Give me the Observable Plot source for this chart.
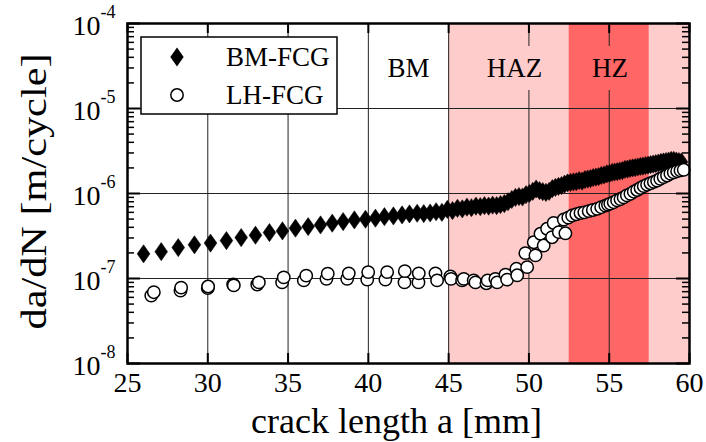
<!DOCTYPE html>
<html><head><meta charset="utf-8">
<script src="https://cdn.jsdelivr.net/npm/d3@7"></script>
<script src="https://cdn.jsdelivr.net/npm/@observablehq/plot@0.6"></script>
<style>
body{margin:0;background:#fff;}
#wrap{position:relative;width:706px;height:442px;font-family:"Liberation Serif",serif;}
#wrap svg, #wrap svg text{font-family:"Liberation Serif",serif !important;}
#legend{position:absolute;left:0;top:0;}
</style></head><body><div id="wrap"></div>
<script>
// ---- data ----
const seriesNames = ["BM-FCG", "LH-FCG"];
const bmA = [26.0,27.1,28.16,29.17,30.17,31.16,32.08,32.97,33.84,34.65,35.46,36.25,37.02,37.75,38.43,39.13,39.82,40.44,41.0,41.56,42.1,42.56,43.04,
 43.45,43.85,44.22,44.58,44.92,45.24,45.55,45.85,46.14,46.42,46.70,46.97,47.23,47.49,47.74,47.99,48.23,48.47,48.70,48.93,49.16,49.38,49.60,49.82,
 50.03,50.24,50.45,50.66,50.86,51.06,51.26,51.46,51.65,51.84,52.03,52.22,52.41,52.59,52.77,52.95,53.13,53.31,53.49,53.66,53.83,54.0,54.17,54.34,
 54.51,54.68,54.85,55.02,55.18,55.34,55.5,55.66,55.82,55.98,56.14,56.3,56.46,56.62,56.78,56.94,57.1,57.26,57.42,57.58,57.74,57.9,58.06,58.22,
 58.38,58.54,58.7,58.86,59.02,59.18,59.34,59.5];
const bmRate = [1.95e-7,2.07e-7,2.31e-7,2.49e-7,2.61e-7,2.79e-7,3.03e-7,3.23e-7,3.47e-7,3.63e-7,3.91e-7,4.08e-7,4.27e-7,4.47e-7,4.67e-7,4.89e-7,4.98e-7,5.12e-7,5.34e-7,5.45e-7,5.60e-7,5.75e-7,5.86e-7,
 5.8e-7,5.9e-7,6.1e-7,6.0e-7,6.5e-7,6.3e-7,6.7e-7,6.6e-7,6.9e-7,6.8e-7,7.1e-7,7.0e-7,7.2e-7,7.1e-7,7.3e-7,7.2e-7,7.4e-7,7.6e-7,8.0e-7,8.5e-7,9.0e-7,9.2e-7,9.1e-7,9.7e-7,
 1.0e-6,1.06e-6,1.13e-6,1.08e-6,1.05e-6,1.03e-6,1.06e-6,1.14e-6,1.18e-6,1.21e-6,1.24e-6,1.29e-6,1.33e-6,1.35e-6,1.37e-6,1.38e-6,1.42e-6,1.40e-6,1.46e-6,1.48e-6,1.50e-6,1.54e-6,1.56e-6,1.58e-6,
 1.63e-6,1.65e-6,1.70e-6,1.72e-6,1.77e-6,1.79e-6,1.81e-6,1.84e-6,1.86e-6,1.92e-6,1.94e-6,1.97e-6,2.0e-6,2.02e-6,2.05e-6,2.08e-6,2.10e-6,2.13e-6,2.16e-6,2.19e-6,2.22e-6,2.25e-6,2.28e-6,2.32e-6,
 2.35e-6,2.38e-6,2.41e-6,2.45e-6,2.45e-6,2.41e-6,2.38e-6,2.35e-6];
const lhA = [26.48,26.64,28.30,28.34,30.00,30.02,31.58,31.62,33.08,33.18,34.63,34.73,35.98,36.13,37.39,37.47,38.68,38.78,39.93,39.99,41.06,41.17,42.25,42.27,
 43.12,43.14,44.18,44.28,45.11,45.15,45.84,45.94,46.56,46.67,47.35,47.43,47.91,48.02,48.54,48.64,49.22,49.27,49.78,49.89,50.30,50.41,50.72,50.92,51.13,51.44,
 51.54,51.86,52.17,52.27,52.45,52.69,52.95,53.21,53.45,53.72,53.98,54.25,54.5,54.76,54.92,55.07,55.28,55.49,55.7,55.90,56.1,56.32,56.53,56.74,56.95,57.15,
 57.36,57.57,57.78,57.98,58.18,58.39,58.6,58.81,59.02,59.23,59.44,59.64];
const lhRate = [6.3e-8,6.9e-8,7.2e-8,7.8e-8,7.7e-8,8.05e-8,8.5e-8,8.3e-8,8.5e-8,9.0e-8,9.0e-8,1.03e-7,9.5e-8,1.08e-7,9.9e-8,1.14e-7,9.9e-8,1.15e-7,9.7e-8,1.19e-7,9.7e-8,1.19e-7,9.0e-8,1.22e-7,
 9.0e-8,1.15e-7,1.15e-7,9.5e-8,1.06e-7,9.9e-8,9.5e-8,9.9e-8,9.5e-8,9.0e-8,8.8e-8,9.5e-8,9.9e-8,9.0e-8,1.11e-7,9.7e-8,1.30e-7,1.09e-7,1.99e-7,1.36e-7,2.67e-7,1.87e-7,3.36e-7,2.44e-7,3.85e-7,3.06e-7,
 4.5e-7,3.51e-7,4.94e-7,3.4e-7,5.2e-7,5.5e-7,5.7e-7,5.9e-7,6.0e-7,6.2e-7,6.4e-7,6.6e-7,6.9e-7,7.2e-7,7.4e-7,7.6e-7,7.9e-7,8.3e-7,8.6e-7,9.0e-7,9.5e-7,9.9e-7,1.05e-6,1.10e-6,1.16e-6,1.22e-6,
 1.27e-6,1.32e-6,1.37e-6,1.42e-6,1.49e-6,1.56e-6,1.63e-6,1.71e-6,1.77e-6,1.83e-6,1.87e-6,1.90e-6];
const zoneStart = [45, 52.5, 57.5];
const zoneEnd = [52.5, 57.5, 60];
const zoneName = ["HAZ", "HZ", "HAZ"];
const regionLabels = ["BM", "HAZ", "HZ"];
const regionA = [42.5, 49.1, 55.05];
const regionRate = [3e-5, 3e-5, 3e-5];
const xTicks = [25, 30, 35, 40, 45, 50, 55, 60];
const xGrid = [30, 35, 40, 45, 50, 55];
const yTicks = [1e-8, 1e-7, 1e-6, 1e-5, 1e-4];
const yExp = ["-8", "-7", "-6", "-5", "-4"];
const yGrid = [1e-7, 1e-6, 1e-5];
const xTitle = "crack length a [mm]";
const yTitle = "da/dN [m/cycle]";

// ---- build ----
const W = 706, H = 442, mL = 127, mR = 17, mT = 23, mB = 79;
const pw = W - mL - mR, ph = H - mT - mB;
const font = "Liberation Serif";
const bm = bmA.map((a, i) => ({a, rate: bmRate[i]}));
const lh = lhA.map((a, i) => ({a, rate: lhRate[i]}));
const zones = zoneStart.map((s, i) => ({s, e: zoneEnd[i], zone: zoneName[i]}));
const regions = regionLabels.map((t, i) => ({t, a: regionA[i], rate: regionRate[i]}));
const yMinor = [];
yTicks.slice(0, -1).forEach(d => { for (let k = 2; k <= 9; k++) yMinor.push(d * k); });

const tallDiamond = {
  draw(ctx, size) {
    const r = Math.sqrt(size / Math.PI);
    ctx.moveTo(0, -1.4 * r);
    ctx.lineTo(0.98 * r, 0);
    ctx.lineTo(0, 1.4 * r);
    ctx.lineTo(-0.98 * r, 0);
    ctx.closePath();
  }
};

const chart = Plot.plot({
  width: W, height: H,
  marginLeft: mL, marginRight: mR, marginTop: mT, marginBottom: mB,
  style: {fontFamily: font, fontSize: "26px", color: "black", background: "white"},
  x: {domain: [25, 60], axis: null},
  y: {type: "log", domain: [1e-8, 1e-4], axis: null},
  color: {domain: ["BM", "HAZ", "HZ"], range: ["#ffffff", "#ffcccc", "#ff6666"]},
  marks: [
    Plot.rect(zones, {x1: "s", x2: "e", fill: "zone"}),
    Plot.ruleX(xGrid, {stroke: "#222", strokeWidth: 1}),
    Plot.ruleY(yGrid, {stroke: "#222", strokeWidth: 1}),
    Plot.text(regions, {x: "a", y: "rate", text: "t", fontSize: 27, fill: "black", fontFamily: font,
      stroke: "t", strokeWidth: 26, lineAnchor: "middle"}),
    Plot.tickX(xTicks, {x: d => d, insetTop: ph - 10, stroke: "black", strokeWidth: 2}),
    Plot.tickX(xTicks, {x: d => d, insetBottom: ph - 10, stroke: "black", strokeWidth: 2}),
    Plot.tickY(yTicks, {y: d => d, insetRight: pw - 13, stroke: "black", strokeWidth: 2}),
    Plot.tickY(yTicks, {y: d => d, insetLeft: pw - 13, stroke: "black", strokeWidth: 2}),
    Plot.tickY(yMinor, {y: d => d, insetRight: pw - 7, stroke: "black", strokeWidth: 1.5}),
    Plot.tickY(yMinor, {y: d => d, insetLeft: pw - 7, stroke: "black", strokeWidth: 1.5}),
    Plot.dot(bm, {x: "a", y: "rate", symbol: tallDiamond, r: 6.5, fill: "black", stroke: "black", strokeWidth: 0.5}),
    Plot.dot(lh, {x: "a", y: "rate", r: 6.2, fill: "white", stroke: "black", strokeWidth: 1.5}),
    Plot.frame({stroke: "black", strokeWidth: 2.5}),
    Plot.axisX(xTicks, {tickSize: 0, tickPadding: 9, fontSize: 28, fontFamily: font, fill: "black"}),
    Plot.text(yTicks, {y: d => d, text: () => "10", frameAnchor: "left", textAnchor: "end", fontFamily: font,
      dx: -27, dy: 3, fontSize: 28, lineAnchor: "middle", fill: "black"}),
    Plot.text(yTicks, {y: d => d, text: (d, i) => yExp[i], frameAnchor: "left", textAnchor: "start", fontFamily: font,
      dx: -27, dy: -11, fontSize: 18, lineAnchor: "middle", fill: "black"}),
    Plot.text([xTitle], {frameAnchor: "bottom", dx: -12, dy: 58, fontSize: 36, fontFamily: font, lineAnchor: "middle", fill: "black"}),
    Plot.text([yTitle], {frameAnchor: "left", textAnchor: "middle", dx: -93, dy: -2, rotate: -90, fontSize: 36,
      fontFamily: font, lineAnchor: "middle", fill: "black", className: "ytitle"})
  ]
});
const wrap = document.getElementById("wrap");
wrap.appendChild(chart);
// the reference's rotated title is drawn a little taller than the plain font
d3.select(chart).selectAll("text").filter(function () { return this.textContent === yTitle; })
  .attr("textLength", 276).attr("lengthAdjust", "spacingAndGlyphs");

// ---- legend (overlay) ----
const lg = d3.select(wrap).append("svg").attr("id", "legend")
  .attr("width", W).attr("height", H).style("pointer-events", "none");
lg.append("rect").attr("x", 141).attr("y", 37).attr("width", 196).attr("height", 77)
  .attr("fill", "white").attr("stroke", "black").attr("stroke-width", 1.5);
const sym = d3.symbol(tallDiamond, 6.8 * 6.8 * Math.PI)();
lg.append("path").attr("d", sym).attr("transform", "translate(177,57)").attr("fill", "black");
lg.append("circle").attr("cx", 177).attr("cy", 95).attr("r", 6.2).attr("fill", "white")
  .attr("stroke", "black").attr("stroke-width", 1.5);
seriesNames.forEach((n, i) => {
  lg.append("text").attr("x", 226).attr("y", i === 0 ? 57 : 95).attr("dy", "0.35em")
    .attr("font-family", font).attr("font-size", 27).attr("fill", "black").text(n);
});
</script>
</body></html>
